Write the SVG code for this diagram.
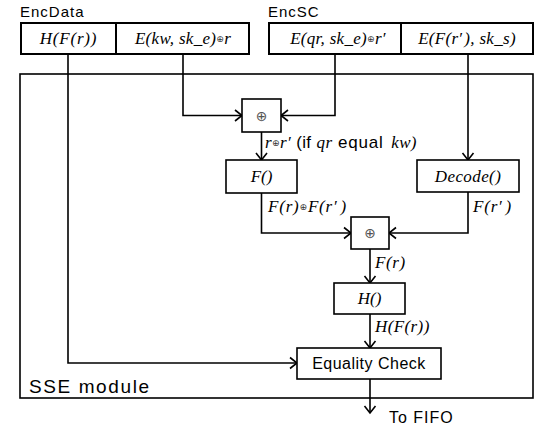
<svg xmlns="http://www.w3.org/2000/svg" width="536" height="432" viewBox="0 0 536 432">
<style>
.box{fill:#fff;stroke:#000;stroke-width:1.6}
.tbox{fill:#fff;stroke:#000;stroke-width:2}
.ln{fill:none;stroke:#000;stroke-width:1.6}
.it{font-family:"Liberation Serif",serif;font-style:italic;font-size:17px;fill:#000}
.sans{font-family:"Liberation Sans",Arial,sans-serif;fill:#000}
.xs{font-family:"DejaVu Sans",sans-serif;font-style:normal;font-size:9px;fill:#333}
.xb{font-family:"DejaVu Sans",sans-serif;font-size:14px;fill:#555}
</style>
<defs>
<marker id="ah" markerUnits="userSpaceOnUse" markerWidth="16" markerHeight="16" viewBox="-10 -8 12 16" refX="0" refY="0" orient="auto">
<path d="M-7,-5.5 L0,0 L-7,5.5" fill="none" stroke="#000" stroke-width="1.6"/>
</marker>
</defs>

<g id="sse-module">
<rect x="20" y="74" width="513" height="324" fill="#fff" stroke="#000" stroke-width="1.6"/>
<text class="sans" x="29" y="393" font-size="19" letter-spacing="1.6">SSE module</text>
</g>

<g id="encdata">
<text class="sans" x="20" y="17" font-size="15" letter-spacing="1">EncData</text>
<rect class="tbox" x="21" y="23" width="95" height="31"/>
<rect class="tbox" x="116" y="23" width="133" height="31"/>
<text class="it" x="68.5" y="44" text-anchor="middle" letter-spacing="0.8">H(F(r))</text>
<text class="it" x="183" y="44" text-anchor="middle" letter-spacing="0.3">E(kw, sk_e)<tspan class="xs" dy="-2">⊕</tspan><tspan dy="2">r</tspan></text>
</g>

<g id="encsc">
<text class="sans" x="268" y="17" font-size="15" letter-spacing="1">EncSC</text>
<rect class="tbox" x="269" y="23" width="132" height="31"/>
<rect class="tbox" x="401" y="23" width="132" height="31"/>
<text class="it" x="338" y="44" text-anchor="middle" letter-spacing="0.3">E(qr, sk_e)<tspan class="xs" dy="-2">⊕</tspan><tspan dy="2">r′</tspan></text>
<text class="it" x="467" y="44" text-anchor="middle" letter-spacing="0.3">E(F(r′<tspan dx="2">),</tspan> sk_s)</text>
</g>

<g id="connectors">
<path class="ln" d="M183,54 V115.5 H242" marker-end="url(#ah)"/>
<path class="ln" d="M335,54 V115.5 H281" marker-end="url(#ah)"/>
<path class="ln" d="M261.5,132 V160" marker-end="url(#ah)"/>
<path class="ln" d="M468,54 V160" marker-end="url(#ah)"/>
<path class="ln" d="M261.5,193 V233 H351" marker-end="url(#ah)"/>
<path class="ln" d="M468,192 V233 H389" marker-end="url(#ah)"/>
<path class="ln" d="M370,249 V283" marker-end="url(#ah)"/>
<path class="ln" d="M370,314 V348" marker-end="url(#ah)"/>
<path class="ln" d="M68,54 V363 H297" marker-end="url(#ah)"/>
<path class="ln" d="M370,379 V413" marker-end="url(#ah)"/>
</g>

<g id="labels">
<text class="it" x="265" y="148" letter-spacing="0.4"><tspan>r</tspan><tspan class="xs" dy="-2">⊕</tspan><tspan dy="2">r′</tspan><tspan class="sans" font-style="normal" font-size="17" dx="5">(if </tspan><tspan>qr</tspan><tspan class="sans" font-style="normal" font-size="17" letter-spacing="0.8"> equal  </tspan><tspan dx="2">kw)</tspan></text>
<text class="it" x="268" y="212" letter-spacing="0.8">F(r)<tspan class="xs" dy="-2">⊕</tspan><tspan dy="2">F(r′</tspan><tspan dx="3">)</tspan></text>
<text class="it" x="473" y="212" letter-spacing="0.8">F(r′<tspan dx="3">)</tspan></text>
<text class="it" x="375" y="268" letter-spacing="0.6">F(r)</text>
<text class="it" x="375" y="332" letter-spacing="0.4">H(F(r))</text>
<text class="sans" x="389" y="423" font-size="16" letter-spacing="1">To FIFO</text>
</g>

<g id="xor1">
<rect class="box" x="242" y="99" width="39" height="33"/>
<text class="xb" x="261.5" y="120.5" text-anchor="middle">⊕</text>
</g>

<g id="f-func">
<rect class="box" x="226" y="160" width="71" height="33"/>
<text class="it" x="261.5" y="182" text-anchor="middle">F()</text>
</g>

<g id="decode">
<rect class="box" x="417" y="160" width="102" height="32"/>
<text class="it" x="468" y="182" text-anchor="middle" letter-spacing="0.4">Decode()</text>
</g>

<g id="xor2">
<rect class="box" x="351" y="217" width="38" height="32"/>
<text class="xb" x="370" y="238" text-anchor="middle">⊕</text>
</g>

<g id="h-func">
<rect class="box" x="334" y="283" width="71" height="31"/>
<text class="it" x="369.5" y="304" text-anchor="middle">H()</text>
</g>

<g id="equality-check">
<rect class="box" x="297" y="348" width="144" height="31"/>
<text class="sans" x="369" y="369" text-anchor="middle" font-size="16" letter-spacing="0.5">Equality Check</text>
</g>
</svg>
